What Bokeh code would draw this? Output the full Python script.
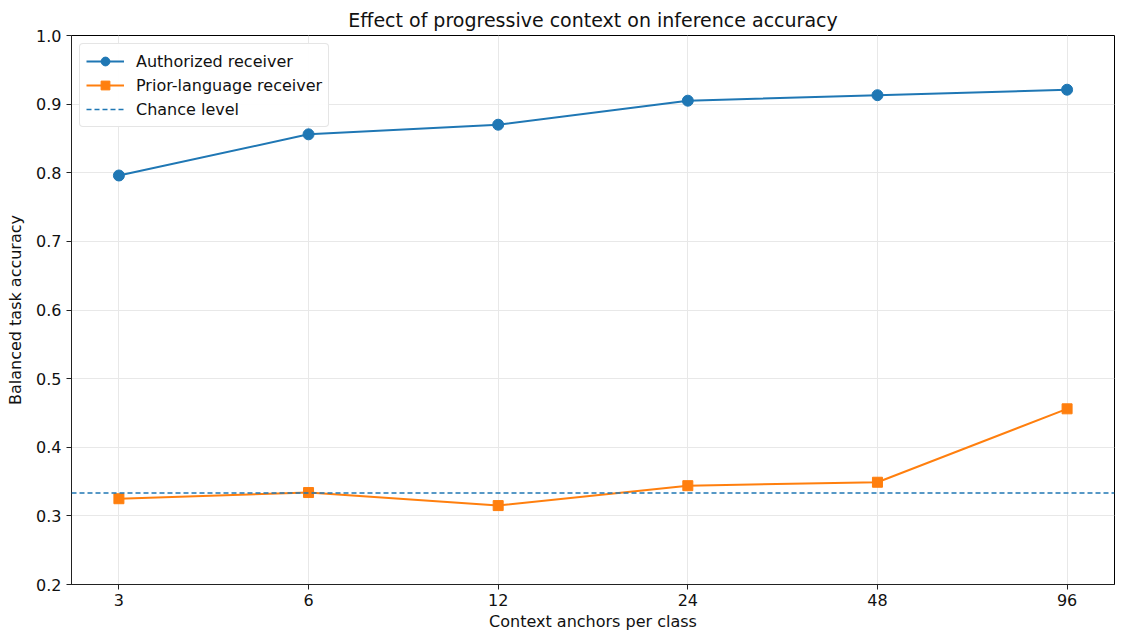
from bokeh.plotting import figure
from bokeh.models import FixedTicker, Legend, LegendItem, Span
from bokeh.embed import file_html
from bokeh.resources import INLINE

anchors = [3, 6, 12, 24, 48, 96]
authorized = [0.796, 0.856, 0.870, 0.905, 0.913, 0.921]
prior_language = [0.325, 0.334, 0.315, 0.344, 0.349, 0.456]
chance = 1 / 3
y_ticks = [0.2, 0.3, 0.4, 0.5, 0.6, 0.7, 0.8, 0.9, 1.0]

FONT = "DejaVu Sans"
BLUE = "#1f77b4"
ORANGE = "#ff7f0e"
TXT = "#111111"

p = figure(width=1123, height=644, output_backend="svg", toolbar_location=None,
           x_axis_type="log", x_range=(3 * 2 ** -0.25, 96 * 2 ** 0.25), y_range=(0.2, 1.0),
           min_border_left=71, min_border_right=9, min_border_top=35, min_border_bottom=60)

p.title.text = "Effect of progressive context on inference accuracy"
p.title.align = "center"
p.title.text_font = FONT
p.title.text_font_style = "normal"
p.title.text_font_size = "19px"
p.title.text_color = TXT

p.outline_line_color = "black"
p.outline_line_width = 1
p.background_fill_color = "white"
p.border_fill_color = "white"

p.xaxis.ticker = FixedTicker(ticks=anchors)
p.xaxis.major_label_overrides = {a: str(a) for a in anchors}
p.yaxis.ticker = FixedTicker(ticks=y_ticks)
p.yaxis.major_label_overrides = {t: f"{t:.1f}" for t in y_ticks}

for ax in (p.xaxis[0], p.yaxis[0]):
    ax.minor_tick_line_color = None
    ax.major_tick_in = 0
    ax.major_tick_out = 5
    ax.major_tick_line_color = "#222222"
    ax.axis_line_color = "#222222"
    ax.major_label_text_font = FONT
    ax.major_label_text_font_size = "16px"
    ax.major_label_text_color = TXT
    ax.axis_label_text_font = FONT
    ax.axis_label_text_font_size = "16px"
    ax.axis_label_text_font_style = "normal"
    ax.axis_label_text_color = TXT

p.xaxis.axis_label = "Context anchors per class"
p.yaxis.axis_label = "Balanced task accuracy"
p.xaxis.axis_label_standoff = 3
p.yaxis.axis_label_standoff = 8
p.xaxis.major_label_standoff = 4

p.xgrid.grid_line_color = "#e8e8e8"
p.ygrid.grid_line_color = "#e8e8e8"

chance_span = Span(location=chance, dimension="width", line_color=BLUE,
                   line_dash="5 3", line_width=1.5)
p.add_layout(chance_span)
chance_line = p.line([anchors[0], anchors[-1]], [chance, chance], line_color=BLUE,
                     line_dash="5 3", line_width=1.5, visible=False)

a_line = p.line(anchors, authorized, line_color=BLUE, line_width=2)
a_pts = p.scatter(anchors, authorized, marker="circle", size=11, fill_color=BLUE, line_color=BLUE)
b_line = p.line(anchors, prior_language, line_color=ORANGE, line_width=2)
b_pts = p.scatter(anchors, prior_language, marker="square", size=10, fill_color=ORANGE, line_color=ORANGE)

legend = Legend(items=[
    LegendItem(label="Authorized receiver", renderers=[a_line, a_pts]),
    LegendItem(label="Prior-language receiver", renderers=[b_line, b_pts]),
    LegendItem(label="Chance level", renderers=[chance_line]),
], location="top_left")
legend.label_text_font = FONT
legend.label_text_font_size = "16px"
legend.label_text_color = TXT
legend.border_line_color = "#cccccc"
legend.border_line_width = 1
legend.border_radius = 4
legend.glyph_width = 38
legend.glyph_height = 22
legend.label_height = 22
legend.spacing = 2
legend.padding = 6
legend.margin = 8
legend.label_standoff = 12
p.add_layout(legend)

open("out.html", "w").write(file_html(p, INLINE))
